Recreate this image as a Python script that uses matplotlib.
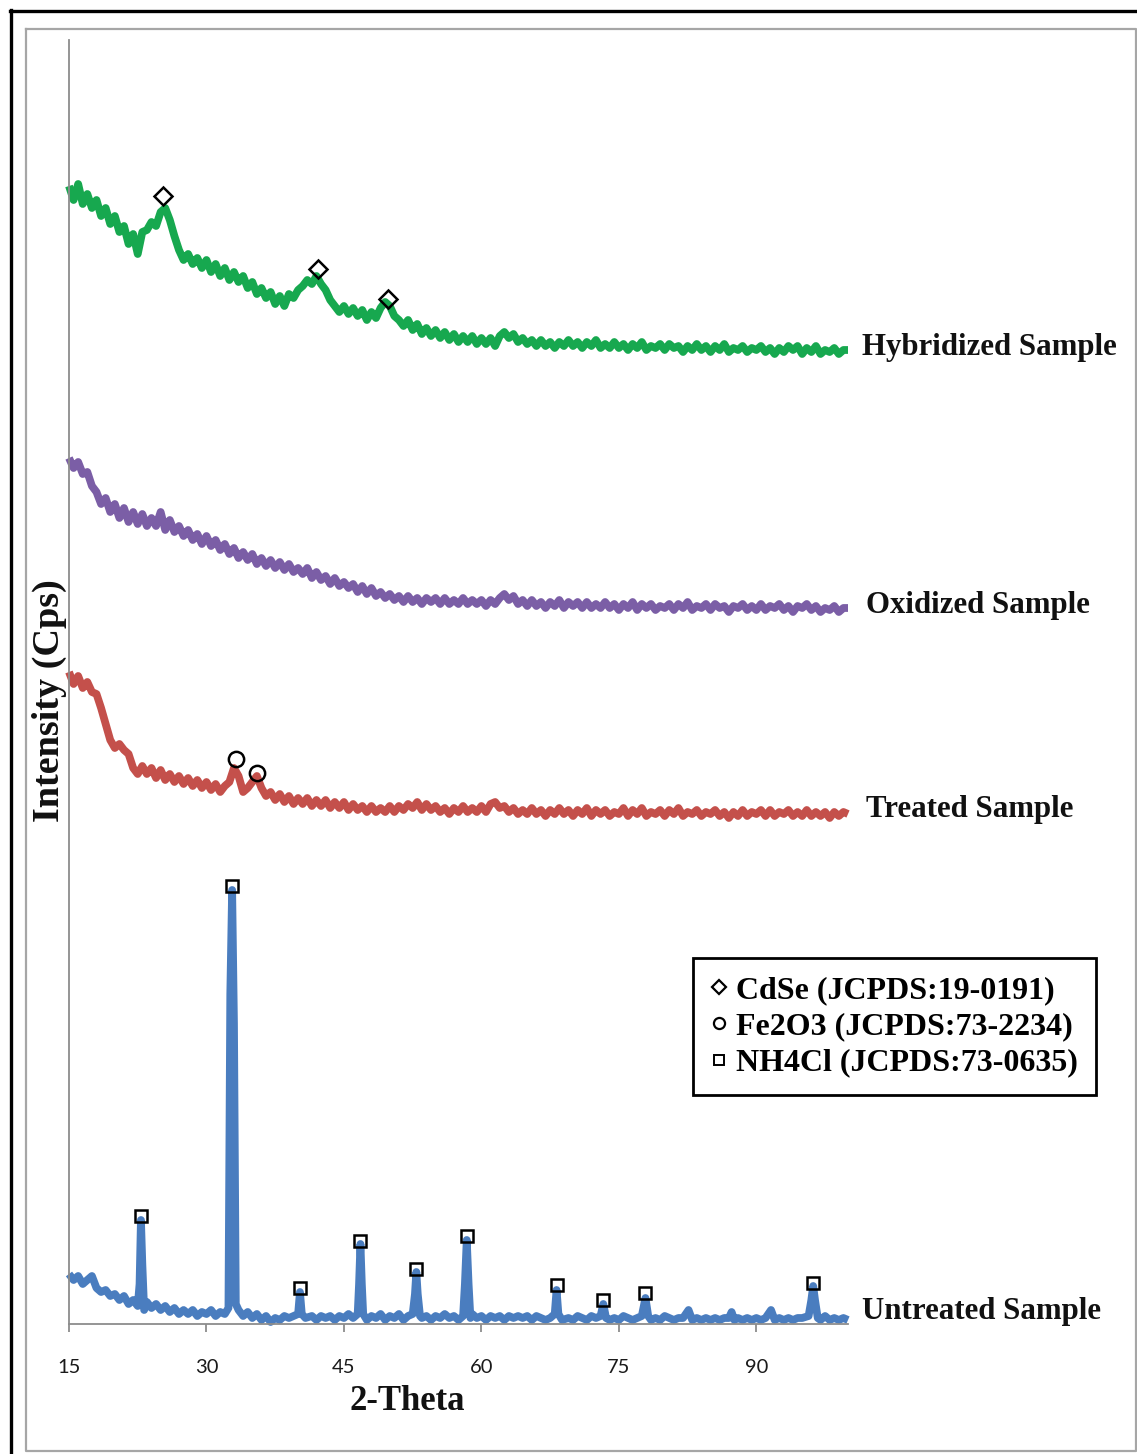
import matplotlib
matplotlib.use("Agg")
import matplotlib.pyplot as plt
from matplotlib.lines import Line2D
import numpy as np

W, H = 1137, 1454

# ---------------- data (intensity in arbitrary stacked units) ----------------
x_step = [15 + 0.5 * i for i in range(171)]

hybridized = [
    1138, 1124, 1140, 1120, 1130, 1116, 1124, 1108, 1116, 1100,
    1108, 1092, 1098, 1080, 1090, 1070, 1092, 1094, 1102, 1098,
    1112, 1116, 1104, 1088, 1074, 1064, 1070, 1060, 1066, 1056,
    1064, 1052, 1060, 1048, 1056, 1044, 1052, 1042, 1048, 1036,
    1042, 1030, 1036, 1026, 1032, 1020, 1028, 1018, 1030, 1026,
    1034, 1038, 1044, 1040, 1048, 1040, 1034, 1024, 1018, 1012,
    1018, 1010, 1016, 1008, 1014, 1004, 1012, 1006, 1016, 1022,
    1018, 1008, 1004, 998, 1004, 994, 1000, 990, 996, 988,
    994, 986, 992, 984, 990, 982, 988, 982, 988, 980,
    986, 980, 986, 978, 988, 992, 986, 990, 982, 986,
    980, 984, 978, 984, 978, 982, 976, 982, 978, 984,
    978, 982, 976, 982, 978, 984, 976, 980, 976, 982,
    976, 980, 974, 980, 976, 982, 974, 978, 976, 980,
    974, 980, 976, 978, 972, 978, 974, 980, 974, 978,
    972, 978, 974, 980, 972, 976, 974, 978, 972, 976,
    974, 978, 972, 976, 970, 976, 972, 978, 974, 978,
    970, 976, 972, 978, 970, 974, 972, 976, 970, 974,
    974,
]

oxidized = [
    866, 856, 862, 850, 852, 838, 832, 820, 826, 812,
    820, 806, 816, 802, 812, 800, 810, 798, 806, 798,
    812, 794, 804, 792, 798, 788, 794, 784, 790, 780,
    788, 778, 784, 774, 780, 770, 776, 766, 772, 764,
    770, 760, 766, 758, 764, 756, 762, 754, 760, 752,
    756, 750, 756, 746, 752, 744, 748, 740, 746, 738,
    742, 736, 740, 732, 738, 730, 736, 728, 732, 726,
    730, 724, 728, 722, 728, 722, 726, 720, 726, 722,
    726, 720, 726, 720, 724, 720, 726, 720, 724, 720,
    724, 718, 724, 720, 726, 730, 724, 728, 720, 724,
    718, 724, 718, 722, 716, 722, 718, 724, 716, 722,
    718, 722, 716, 722, 716, 720, 716, 722, 716, 720,
    714, 720, 716, 722, 714, 720, 716, 720, 714, 718,
    716, 720, 714, 720, 716, 722, 714, 718, 716, 720,
    714, 720, 716, 718, 712, 718, 716, 720, 714, 718,
    714, 720, 714, 718, 716, 720, 714, 718, 712, 718,
    716, 720, 714, 718, 712, 716, 714, 718, 712, 716,
    716,
]

treated = [
    652, 640, 648, 636, 642, 632, 630, 616, 600, 584,
    576, 580, 574, 570, 556, 550, 558, 550, 556, 546,
    554, 544, 550, 542, 548, 540, 546, 538, 544, 536,
    542, 534, 540, 532, 538, 542, 556, 548, 532, 536,
    542, 548, 536, 528, 532, 524, 530, 522, 528, 520,
    526, 520, 526, 518, 524, 518, 524, 516, 522, 516,
    522, 514, 520, 514, 518, 512, 518, 512, 516, 512,
    518, 512, 518, 514, 520, 516, 522, 514, 520, 514,
    518, 512, 516, 510, 516, 512, 518, 512, 516, 512,
    518, 512, 520, 522, 516, 518, 512, 516, 510, 514,
    510, 516, 510, 514, 508, 514, 510, 516, 510, 514,
    508, 514, 510, 516, 508, 514, 510, 514, 508, 512,
    510, 516, 508, 514, 510, 516, 508, 512, 510, 514,
    508, 514, 510, 516, 508, 512, 510, 514, 508, 512,
    510, 514, 508, 512, 506, 512, 508, 514, 508, 512,
    510, 514, 508, 514, 508, 512, 510, 514, 508, 512,
    508, 514, 508, 512, 508, 512, 506, 512, 508, 512,
    510,
]

untreated_x = [
    15.0, 15.5, 16.0, 16.5, 17.0, 17.5, 18.0, 18.5, 19.0, 19.5,
    20.0, 20.5, 21.0, 21.5, 22.0, 22.5, 22.7, 22.85, 23.0, 23.2,
    23.5, 24.0, 24.5, 25.0, 25.5, 26.0, 26.5, 27.0, 27.5, 28.0,
    28.5, 29.0, 29.5, 30.0, 30.5, 31.0, 31.5, 32.0, 32.4, 32.6,
    32.8, 33.0, 33.2, 33.5, 34.0, 34.5, 35.0, 35.5, 36.0, 36.5,
    37.0, 37.5, 38.0, 38.5, 39.0, 39.5, 40.0, 40.2, 40.4, 40.8,
    41.5, 42.0, 42.5, 43.0, 43.5, 44.0, 44.5, 45.0, 45.5, 46.0,
    46.5, 46.65, 46.8, 46.95, 47.1, 47.5, 48.0, 48.5, 49.0, 49.5,
    50.0, 50.5, 51.0, 51.5, 52.0, 52.5, 52.75, 52.9, 53.05, 53.3,
    53.5, 54.0, 54.5, 55.0, 55.5, 56.0, 56.5, 57.0, 57.5, 58.0,
    58.2, 58.4, 58.6, 58.8, 59.0, 59.5, 60.0, 60.5, 61.0, 61.5,
    62.0, 62.5, 63.0, 63.5, 64.0, 64.5, 65.0, 65.5, 66.0, 66.5,
    67.0, 67.5, 68.0, 68.2, 68.4, 68.8, 69.5, 70.0, 70.5, 71.0,
    71.5, 72.0, 72.5, 73.0, 73.3, 73.6, 74.0, 74.5, 75.0, 75.5,
    76.0, 76.5, 77.0, 77.5, 77.9, 78.2, 78.5, 79.0, 79.5, 80.0,
    80.5, 81.0, 81.5, 82.0, 82.6, 83.0, 83.5, 84.0, 84.5, 85.0,
    85.5, 86.0, 86.5, 87.0, 87.3, 87.6, 88.0, 88.5, 89.0, 89.5,
    90.0, 90.5, 91.0, 91.6, 92.0, 92.5, 93.0, 93.5, 94.0, 94.5,
    95.0, 95.7, 96.0, 96.2, 96.4, 96.7, 97.0, 97.5, 98.0, 98.5,
    99.0, 99.5, 100.0,
]
untreated = [
    50, 44, 48, 40, 44, 48, 36, 32, 34, 28,
    30, 24, 28, 20, 24, 18, 40, 104, 60, 14,
    22, 16, 20, 14, 18, 12, 16, 10, 14, 10,
    14, 8, 12, 10, 14, 8, 12, 10, 16, 330,
    434, 300, 20, 14, 8, 12, 6, 10, 4, 8,
    2, 6, 4, 8, 6, 8, 10, 32, 10, 6,
    8, 4, 8, 6, 8, 4, 8, 6, 10, 6,
    10, 40, 80, 40, 10, 4, 8, 6, 10, 4,
    8, 6, 10, 4, 8, 10, 30, 52, 30, 8,
    6, 8, 4, 8, 6, 10, 6, 8, 4, 8,
    40, 84, 40, 6, 10, 6, 8, 4, 8, 6,
    8, 4, 8, 6, 8, 6, 8, 4, 8, 6,
    4, 6, 10, 34, 10, 4, 6, 4, 8, 6,
    4, 8, 6, 8, 20, 6, 4, 6, 4, 8,
    6, 4, 6, 8, 26, 8, 4, 6, 4, 8,
    6, 4, 6, 6, 14, 4, 6, 4, 6, 4,
    6, 4, 6, 6, 12, 4, 6, 4, 6, 4,
    6, 4, 6, 14, 4, 6, 4, 6, 4, 6,
    6, 8, 24, 38, 24, 6, 4, 8, 4, 6,
    4, 6, 4,
]

# phase markers (peak positions)
cdse_x = [25.3, 42.2, 49.8]
cdse_y = [1128, 1055, 1025]
fe2o3_x = [33.2, 35.5]
fe2o3_y = [565, 551]
nh4cl_x = [22.85, 32.8, 40.2, 46.8, 52.9, 58.4, 68.2, 73.3, 77.9, 96.2]
nh4cl_y = [108, 438, 36, 83, 55, 88, 39, 24, 31, 41]

sample_names = ["Hybridized Sample", "Oxidized Sample", "Treated Sample", "Untreated Sample"]
legend_labels = ["CdSe (JCPDS:19-0191)", "Fe2O3 (JCPDS:73-2234)", "NH4Cl (JCPDS:73-0635)"]
x_ticks = [15, 30, 45, 60, 75, 90]

c_green = "#17a84f"
c_purple = "#7b5ea6"
c_red = "#c4504b"
c_blue = "#4a7dbf"

# ---------------- figure ----------------
fig = plt.figure(figsize=(W / 100, H / 100), dpi=100)
fig.patch.set_facecolor("white")


def fx(px):
    return px / W


def fy(py):
    return 1 - py / H


# outer black frame (top and left visible)
fig.add_artist(Line2D([fx(10), fx(1137)], [fy(11), fy(11)], color="black", lw=2.4))
fig.add_artist(Line2D([fx(11), fx(11)], [fy(10), fy(1454)], color="black", lw=2.4))
# inner grey frame
fig.add_artist(Line2D([fx(26), fx(1136), fx(1136), fx(26), fx(26)],
                      [fy(29), fy(29), fy(1451), fy(1451), fy(29)],
                      color="#a6a6a6", lw=1.6))

ax = fig.add_axes([fx(69), fy(1324), fx(848) - fx(69), (1324 - 40) / H])
ax.set_xlim(15, 100)
ax.set_ylim(0, 1284)

lw = 5.6
style = dict(lw=lw, clip_on=False, solid_joinstyle="round", solid_capstyle="butt")
ax.plot(x_step, hybridized, color=c_green, **style)
ax.plot(x_step, oxidized, color=c_purple, **style)
ax.plot(x_step, treated, color=c_red, **style)
ax.plot(untreated_x, untreated, color=c_blue, **style)

mk = dict(ls="none", mfc="none", mec="black", mew=1.8, clip_on=False, zorder=5)
ax.plot(cdse_x, cdse_y, marker="D", ms=9, **mk)
ax.plot(fe2o3_x, fe2o3_y, marker="o", ms=11, **mk)
ax.plot(nh4cl_x, nh4cl_y, marker="s", ms=9, **mk)

for s in ["top", "right"]:
    ax.spines[s].set_visible(False)
for s in ["left", "bottom"]:
    ax.spines[s].set_color("#8c8c8c")
    ax.spines[s].set_linewidth(1.3)
ax.set_yticks([])
ax.set_xticks(x_ticks)
ax.tick_params(axis="x", direction="out", length=6, width=1.3, color="#8c8c8c",
               pad=19, labelsize=14.5, labelcolor="#1a1a1a")
for t in ax.get_xticklabels():
    t.set_fontfamily("Lato")

serif = ["Liberation Serif", "DejaVu Serif"]
lab_fs = 22.2
label_pos = [(862, 347), (866, 606), (866, 810), (862, 1311)]
for name, (px, py) in zip(sample_names, label_pos):
    fig.text(fx(px), fy(py), name, family=serif, weight="bold", fontsize=lab_fs,
             ha="left", va="center", color="#111111")

fig.text(fx(407), fy(1402), "2-Theta", family=serif, weight="bold", fontsize=25,
         ha="center", va="center", color="#111111")
fig.text(fx(49), fy(701), "Intensity (Cps)", family=serif, weight="bold", fontsize=27.5,
         ha="center", va="center", rotation=90, color="#111111")

handles = [
    Line2D([], [], ls="none", marker="D", ms=7, mfc="none", mec="black", mew=1.6),
    Line2D([], [], ls="none", marker="o", ms=8, mfc="none", mec="black", mew=1.6),
    Line2D([], [], ls="none", marker="s", ms=7, mfc="none", mec="black", mew=1.4),
]
leg = fig.legend(handles, legend_labels, loc="upper left",
                 bbox_to_anchor=(fx(693), fy(958)), bbox_transform=fig.transFigure,
                 prop={"family": serif, "weight": "bold", "size": 23},
                 frameon=True, fancybox=False, edgecolor="black", framealpha=1,
                 borderpad=0.55, handlelength=0.55, handletextpad=0.25,
                 labelspacing=0.22, borderaxespad=0)
leg.get_frame().set_linewidth(2.0)

fig.savefig("out.png", dpi=100, facecolor="white")
